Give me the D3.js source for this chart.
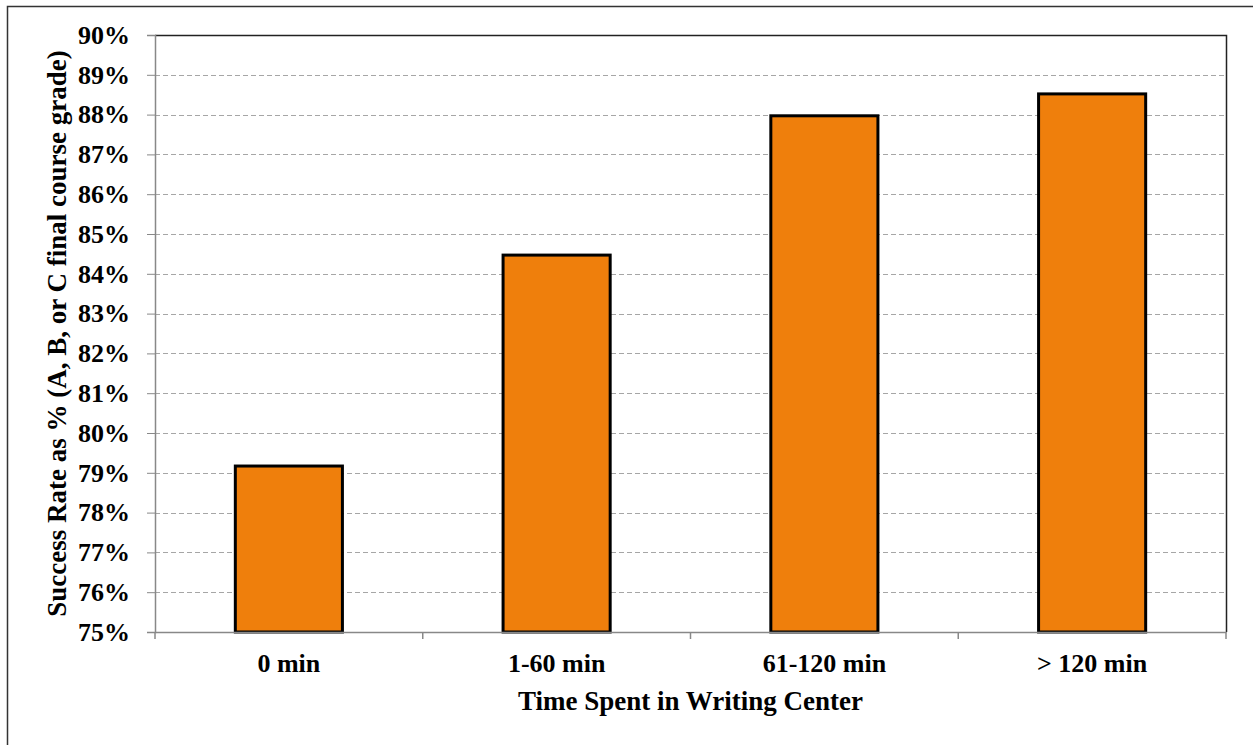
<!DOCTYPE html>
<html><head><meta charset="utf-8">
<script src="https://cdn.jsdelivr.net/npm/d3@7/dist/d3.min.js"></script>
<style>body{margin:0;background:#fff}svg{display:block}</style>
</head><body>
<svg id="c" width="1253" height="745"></svg>
<script>
const categories = ["0 min", "1-60 min", "61-120 min", "> 120 min"];
const successRate = [79.17, 84.47, 87.97, 88.52];
const yTicks = [75,76,77,78,79,80,81,82,83,84,85,86,87,88,89,90];
const xTitle = "Time Spent in Writing Center";
const yTitle = "Success Rate as % (A, B, or C final course grade)";

const svg = d3.select("#c");
const L = 155, R = 1226, T = 35, B = 632;
const font = "'Liberation Serif','Times New Roman',serif";
const FS = 26, TFS = 27;

// outer border
svg.append("path").attr("d","M7.5,745 V6.5 H1253").attr("fill","none").attr("stroke","#333").attr("stroke-width",1.5);

const x = d3.scaleBand().domain(categories).range([L,R]).paddingInner(0.6).paddingOuter(0.3);
const xb = d3.scaleBand().domain(categories).range([L,R]);
const y = d3.scaleLinear().domain([75,90]).range([B,T]);

// gridlines
svg.append("g").selectAll("line").data(yTicks.filter(t=>t>75 && t<90)).join("line")
  .attr("x1",L).attr("x2",R).attr("y1",d=>Math.round(y(d))+0.5).attr("y2",d=>Math.round(y(d))+0.5)
  .attr("stroke","#a6a6a6").attr("stroke-width",1).attr("stroke-dasharray","5,3");

// plot border top/right
svg.append("path").attr("d",`M${L},${T+0.5} H${R+0.5} V${B}`).attr("fill","none").attr("stroke","#222").attr("stroke-width",1.5);

// bars
svg.append("g").selectAll("rect").data(categories).join("rect")
  .attr("x",d=>x(d)).attr("width",x.bandwidth())
  .attr("y",(d,i)=>y(successRate[i])).attr("height",(d,i)=>B-y(successRate[i]))
  .attr("fill","#ef7f0c").attr("stroke","#000").attr("stroke-width",3);

// y axis
const ya = svg.append("g").attr("transform",`translate(${L},0)`)
  .call(d3.axisLeft(y).tickValues(yTicks).tickSize(8).tickPadding(17).tickFormat(d=>d+"%"));
ya.select(".domain").attr("stroke","#888").attr("stroke-width",1.5);
ya.selectAll(".tick line").attr("stroke","#888");
ya.selectAll("text").attr("font-family",font).attr("font-weight","bold").attr("font-size",FS).attr("fill","#000");

// x axis
const xa = svg.append("g").attr("transform",`translate(0,${B})`)
  .call(d3.axisBottom(xb).tickSize(0).tickPadding(22));
xa.select(".domain").attr("stroke","#888").attr("stroke-width",1.5);
xa.selectAll("text").attr("font-family",font).attr("font-weight","bold").attr("font-size",FS).attr("fill","#000");
// boundary ticks
const bounds = categories.map(c=>xb(c)).concat([R]);
svg.append("g").selectAll("line").data(bounds).join("line")
  .attr("x1",d=>d).attr("x2",d=>d).attr("y1",B).attr("y2",B+7)
  .attr("stroke","#888").attr("stroke-width",1.5);

// titles
svg.append("text").attr("x",(L+R)/2).attr("y",710).attr("text-anchor","middle")
  .attr("font-family",font).attr("font-weight","bold").attr("font-size",TFS).text(xTitle);
svg.append("text").attr("transform",`translate(66,${(T+B)/2}) rotate(-90)`).attr("text-anchor","middle")
  .attr("font-family",font).attr("font-weight","bold").attr("font-size",TFS).text(yTitle);
</script>
</body></html>
